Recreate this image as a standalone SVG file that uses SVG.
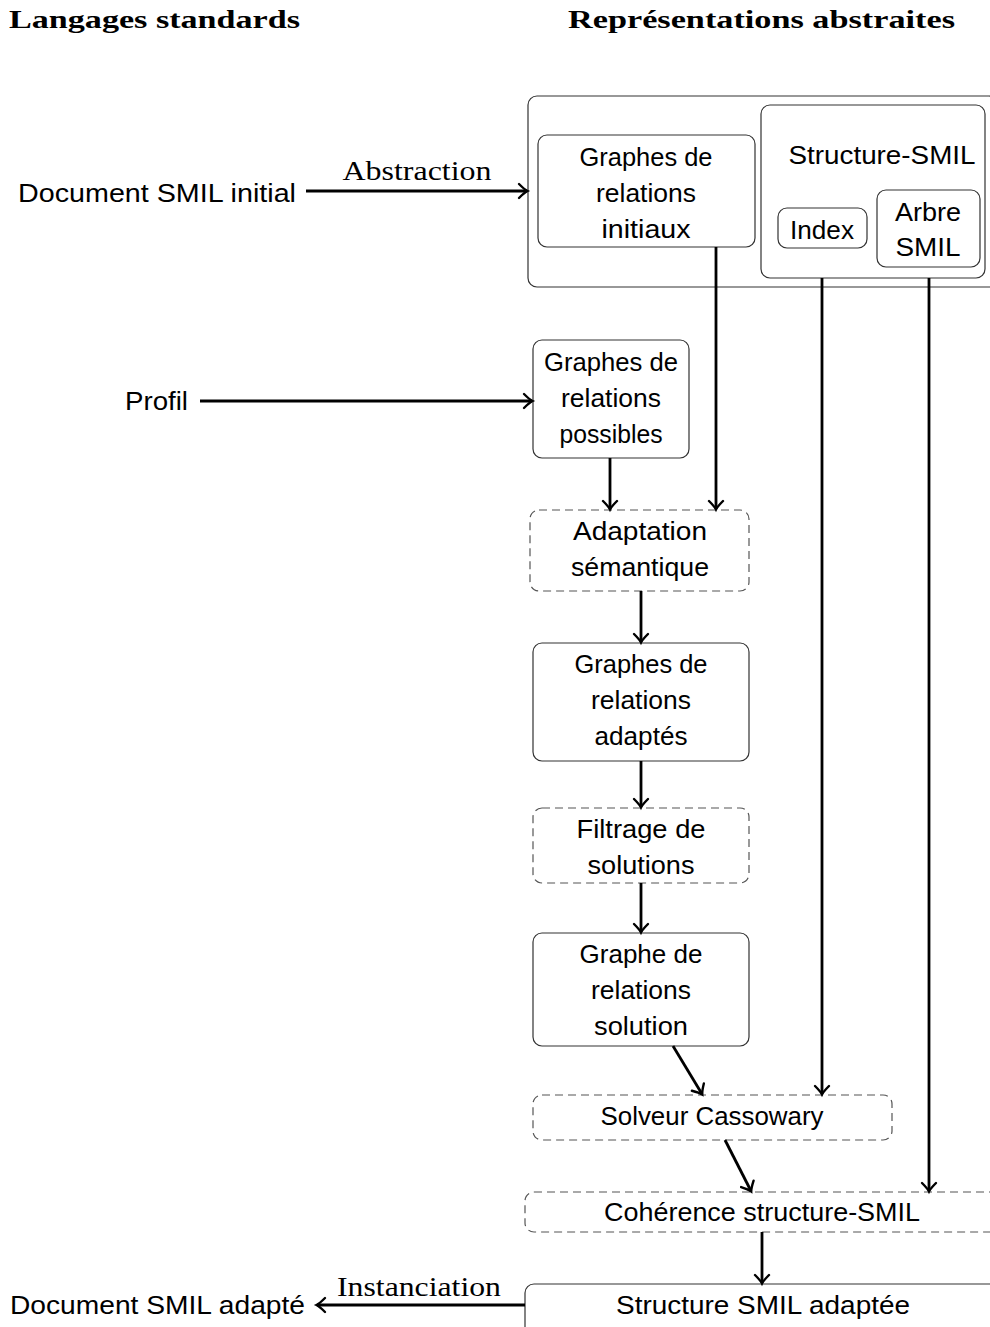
<svg xmlns="http://www.w3.org/2000/svg" width="990" height="1327" viewBox="0 0 990 1327">
<style>
.t{font-family:"Liberation Sans",Arial,sans-serif;font-size:26px;fill:#000;text-anchor:middle}
.l{font-family:"Liberation Sans",Arial,sans-serif;font-size:26px;fill:#000}
.s{font-family:"Liberation Serif","Times New Roman",serif;font-size:28px;fill:#000;text-anchor:middle}
.h{font-family:"Liberation Serif","Times New Roman",serif;font-size:26px;font-weight:bold;fill:#000}
.b{fill:#fff;stroke:#333;stroke-width:1.2}
.d{fill:#fff;stroke:#555;stroke-width:1.2;stroke-dasharray:8 5}
.c{fill:none;stroke:#000;stroke-width:2.8;marker-end:url(#a)}
</style>
<defs>
<marker id="a" viewBox="-10 -8 12 16" refX="0" refY="0" markerWidth="12" markerHeight="16" markerUnits="userSpaceOnUse" orient="auto" overflow="visible">
<path d="M -8 -7 Q -2.5 -1.5 0.5 0 Q -2.5 1.5 -8 7" fill="none" stroke="#000" stroke-width="2.4" stroke-linecap="round"/>
</marker>
</defs>
<rect width="990" height="1327" fill="#fff"/>
<g id="headings">
<text class="h" x="9" y="28" textLength="291" lengthAdjust="spacingAndGlyphs">Langages standards</text>
<text class="h" x="568" y="28" textLength="387" lengthAdjust="spacingAndGlyphs">Représentations abstraites</text>
</g>
<g id="abstract-group">
<rect class="b" x="528" y="96" width="470" height="191" rx="9"/>
</g>
<g id="initiaux">
<rect class="b" x="538" y="135" width="217" height="112" rx="9"/>
<text class="t" x="646" y="166" textLength="133" lengthAdjust="spacingAndGlyphs">Graphes de</text>
<text class="t" x="646" y="202" textLength="100" lengthAdjust="spacingAndGlyphs">relations</text>
<text class="t" x="646" y="238" textLength="89" lengthAdjust="spacingAndGlyphs">initiaux</text>
</g>
<g id="structure-smil">
<rect class="b" x="761" y="105" width="224" height="173" rx="9"/>
<text class="t" x="882" y="164" textLength="187" lengthAdjust="spacingAndGlyphs">Structure-SMIL</text>
</g>
<g id="index">
<rect class="b" x="778" y="208" width="89" height="40" rx="9"/>
<text class="t" x="822" y="239" textLength="64" lengthAdjust="spacingAndGlyphs">Index</text>
</g>
<g id="arbre">
<rect class="b" x="877" y="190" width="103" height="77" rx="9"/>
<text class="t" x="928" y="221" textLength="66" lengthAdjust="spacingAndGlyphs">Arbre</text>
<text class="t" x="928" y="256" textLength="65" lengthAdjust="spacingAndGlyphs">SMIL</text>
</g>
<g id="doc-initial">
<text class="l" x="18" y="202" textLength="278" lengthAdjust="spacingAndGlyphs">Document SMIL initial</text>
</g>
<g id="profil">
<text class="l" x="125" y="410" textLength="63" lengthAdjust="spacingAndGlyphs">Profil</text>
</g>
<g id="possibles">
<rect class="b" x="533" y="340" width="156" height="118" rx="9"/>
<text class="t" x="611" y="371" textLength="134" lengthAdjust="spacingAndGlyphs">Graphes de</text>
<text class="t" x="611" y="407" textLength="100" lengthAdjust="spacingAndGlyphs">relations</text>
<text class="t" x="611" y="443" textLength="103" lengthAdjust="spacingAndGlyphs">possibles</text>
</g>
<g id="adaptation">
<rect class="d" x="530" y="510" width="219" height="81" rx="9"/>
<text class="t" x="640" y="540" textLength="134" lengthAdjust="spacingAndGlyphs">Adaptation</text>
<text class="t" x="640" y="576" textLength="138" lengthAdjust="spacingAndGlyphs">sémantique</text>
</g>
<g id="adaptes">
<rect class="b" x="533" y="643" width="216" height="118" rx="9"/>
<text class="t" x="641" y="673" textLength="133" lengthAdjust="spacingAndGlyphs">Graphes de</text>
<text class="t" x="641" y="709" textLength="100" lengthAdjust="spacingAndGlyphs">relations</text>
<text class="t" x="641" y="745" textLength="93" lengthAdjust="spacingAndGlyphs">adaptés</text>
</g>
<g id="filtrage">
<rect class="d" x="533" y="808" width="216" height="75" rx="9"/>
<text class="t" x="641" y="838" textLength="129" lengthAdjust="spacingAndGlyphs">Filtrage de</text>
<text class="t" x="641" y="874" textLength="107" lengthAdjust="spacingAndGlyphs">solutions</text>
</g>
<g id="solution">
<rect class="b" x="533" y="933" width="216" height="113" rx="9"/>
<text class="t" x="641" y="963" textLength="123" lengthAdjust="spacingAndGlyphs">Graphe de</text>
<text class="t" x="641" y="999" textLength="100" lengthAdjust="spacingAndGlyphs">relations</text>
<text class="t" x="641" y="1035" textLength="94" lengthAdjust="spacingAndGlyphs">solution</text>
</g>
<g id="solveur">
<rect class="d" x="533" y="1095" width="359" height="45" rx="9"/>
<text class="t" x="712" y="1125" textLength="223" lengthAdjust="spacingAndGlyphs">Solveur Cassowary</text>
</g>
<g id="coherence">
<rect class="d" x="525" y="1192" width="475" height="40" rx="9"/>
<text class="t" x="762" y="1221" textLength="316" lengthAdjust="spacingAndGlyphs">Cohérence structure-SMIL</text>
</g>
<g id="smil-adaptee">
<rect class="b" x="525" y="1284" width="475" height="60" rx="9"/>
<text class="t" x="763" y="1314" textLength="294" lengthAdjust="spacingAndGlyphs">Structure SMIL adaptée</text>
</g>
<g id="doc-adapte">
<text class="l" x="10" y="1314" textLength="295" lengthAdjust="spacingAndGlyphs">Document SMIL adapté</text>
</g>
<g id="connectors">
<path class="c" d="M306 191 H527"/>
<text class="s" x="417" y="180" textLength="149" lengthAdjust="spacingAndGlyphs">Abstraction</text>
<path class="c" d="M200 401 H532"/>
<path class="c" d="M716 247 V509"/>
<path class="c" d="M822 278 V1094"/>
<path class="c" d="M929 278 V1191"/>
<path class="c" d="M610 458 V509"/>
<path class="c" d="M641 591 V642"/>
<path class="c" d="M641 761 V807"/>
<path class="c" d="M641 883 V932"/>
<path class="c" d="M673 1046 L702 1094"/>
<path class="c" d="M725 1140 L751 1191"/>
<path class="c" d="M762 1232 V1283"/>
<path class="c" d="M525 1305 H317"/>
<text class="s" x="419" y="1296" textLength="164" lengthAdjust="spacingAndGlyphs">Instanciation</text>
</g>
</svg>
